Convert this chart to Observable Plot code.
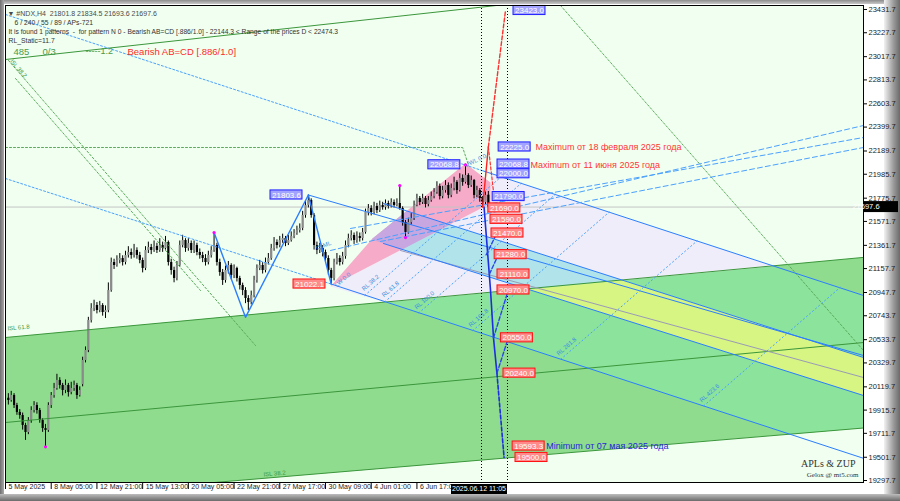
<!DOCTYPE html>
<html><head><meta charset="utf-8">
<script src="https://cdn.jsdelivr.net/npm/d3@7"></script>
<script src="https://cdn.jsdelivr.net/npm/@observablehq/plot@0.6"></script>
<style>
html,body{margin:0;padding:0;background:#fff;}
#wrap{position:relative;width:900px;height:501px;overflow:hidden;background:#fff;}
.band{position:absolute;}
#chart{position:absolute;left:0;top:0;}
</style></head><body>
<div id="wrap">
  <div class="band" style="left:0;top:0;width:900px;height:4px;background:linear-gradient(#8c8c8c,#c8c8c8)"></div>
  <div class="band" style="left:0;top:0;width:4px;height:501px;background:linear-gradient(90deg,#6e6e6e,#a8a8a8)"></div>
  <div class="band" style="left:884px;top:0;width:16px;height:501px;background:linear-gradient(90deg,#f2f2f2,#9a9a9a 60%,#6a6a6a)"></div>
  <div class="band" style="left:0;top:494px;width:900px;height:7px;background:linear-gradient(#bdbdbd,#6a6a6a)"></div>
  <div id="chart"></div>
</div>
<script>
// ---------- candles (bar index 1..169, H4) ----------
const opens = [20020,20000,20044,19956,19895,19868,19781,19719,19824,19912,
19956,19912,19824,19754,19737,19956,20044,20105,20176,20132,
20088,20132,20070,20105,20132,20044,20140,20351,20439,20702,
20807,20834,20790,20834,20772,20790,20965,21211,21185,21229,
21246,21211,21273,21299,21273,21317,21273,21229,21159,21317,
21343,21317,21352,21317,21360,21334,21387,21211,21141,21071,
21185,21360,21404,21334,21378,21317,21360,21299,21273,21246,
21211,21273,21317,21360,21211,21123,21053,21141,21185,21097,
21159,21071,21009,20965,20895,20860,20921,21053,21159,21185,
21141,21211,21246,21334,21387,21360,21404,21422,21378,21404,
21439,21466,21492,21510,21624,21712,21755,21624,21360,21317,
21334,21299,21246,21141,21071,21211,21246,21211,21264,21360,
21422,21448,21404,21439,21422,21475,21650,21685,21650,21703,
21667,21712,21694,21729,21703,21738,21712,21729,21685,21562,
21475,21562,21597,21712,21773,21738,21773,21720,21755,21790,
21826,21878,21790,21843,21887,21800,21861,21914,21843,21949,
21914,21975,21887,21931,21800,21843,21773,21738,21801.8];
const closes = [20000,20044,19956,19895,19868,19781,19719,19824,19912,19956,
19912,19824,19754,19737,19956,20044,20105,20176,20132,20088,
20132,20070,20105,20132,20044,20088,20351,20439,20702,20807,
20834,20790,20834,20772,20790,20965,21211,21185,21229,21246,
21211,21273,21299,21273,21317,21273,21229,21159,21317,21343,
21317,21352,21317,21360,21334,21387,21211,21141,21071,21185,
21360,21404,21334,21378,21317,21360,21299,21273,21246,21211,
21273,21317,21360,21211,21123,21053,21141,21185,21097,21159,
21071,21009,20965,20895,20860,20921,21053,21159,21185,21141,
21211,21246,21334,21387,21360,21404,21422,21378,21404,21439,
21466,21492,21510,21624,21712,21755,21624,21360,21317,21334,
21299,21246,21141,21071,21211,21246,21211,21264,21360,21422,
21448,21404,21439,21422,21475,21650,21685,21650,21703,21667,
21712,21694,21729,21703,21738,21712,21729,21685,21562,21475,
21562,21597,21712,21773,21738,21773,21720,21755,21790,21826,
21878,21790,21843,21887,21800,21861,21914,21843,21949,21914,
21975,21887,21931,21800,21843,21773,21738,21801.8,21697.6];
const highs = [20060,20080,20060,19975,19920,19890,19800,19850,19945,19990,
19980,19930,19840,19790,19980,20070,20150,20230,20200,20150,
20180,20150,20160,20170,20150,20120,20380,20470,20730,20850,
20880,20860,20870,20850,20830,21032,21250,21240,21270,21290,
21270,21310,21350,21330,21370,21340,21300,21250,21350,21390,
21370,21400,21380,21420,21390,21440,21400,21240,21170,21220,
21400,21450,21420,21420,21400,21400,21380,21330,21300,21280,
21310,21350,21474,21380,21240,21150,21180,21220,21200,21190,
21170,21090,21030,20990,20920,20960,21090,21190,21230,21210,
21250,21290,21370,21430,21410,21440,21460,21440,21450,21480,
21500,21530,21550,21660,21750,21803.6,21770,21640,21390,21380,
21360,21320,21270,21160,21240,21290,21270,21300,21400,21460,
21490,21470,21480,21470,21510,21680,21720,21710,21740,21730,
21750,21740,21760,21750,21770,21760,21770,21887,21700,21580,
21600,21640,21750,21810,21790,21810,21790,21790,21830,21860,
21920,21900,21880,21930,21910,21900,21960,21930,21990,21980,
22068.8,21990,21970,21940,21880,21860,21790,21830,21834.5];
const lows = [19960,19985,19930,19870,19835,19740,19650,19700,19800,19890,
19880,19800,19720,19593.3,19720,19930,20020,20090,20100,20040,
20060,20030,20050,20080,20010,20030,20120,20330,20420,20680,
20780,20760,20770,20740,20720,20770,20950,21150,21170,21200,
21180,21190,21250,21240,21250,21240,21200,21120,21140,21290,
21280,21300,21290,21300,21300,21320,21180,21100,21033,21050,
21170,21340,21300,21310,21290,21290,21270,21240,21210,21180,
21190,21250,21300,21180,21090,21010,21030,21110,21060,21070,
21040,20970,20920,20850,20790,20840,20900,21030,21140,21110,
21120,21190,21230,21310,21330,21340,21380,21350,21360,21390,
21420,21450,21470,21490,21600,21690,21600,21320,21280,21290,
21260,21210,21100,21022.1,21050,21190,21180,21190,21240,21340,
21400,21370,21380,21390,21400,21460,21620,21620,21630,21640,
21650,21670,21670,21680,21690,21690,21700,21670,21530,21430,
21460,21540,21580,21700,21710,21720,21690,21700,21740,21770,
21810,21760,21770,21820,21770,21780,21840,21810,21830,21880,
21900,21860,21870,21770,21780,21740,21700,21720,21693.6];

// ---------- axes ----------
const xDomain = [0, 300.3];
const yDomain = [19280.2, 23466.8];
const yTicks = [23431.7,23227.7,23017.7,22813.7,22603.7,22399.7,22189.7,21985.7,21775.7,21571.7,21361.7,21157.7,20947.7,20743.7,20533.7,20329.7,20119.7,19915.7,19711.7,19501.7,19297.7];
const xTickBars = [0,16,32,48,64,80,96,112,128,144];
const xTickLabels = ["5 May 2025","8 May 05:00","12 May 21:00","15 May 13:00","20 May 05:00","22 May 21:00","27 May 17:00","30 May 09:00","4 Jun 01:00","6 Jun 17:00"];
const cursorBars = [166.6, 175.7];
const cursorLabel = "2025.06.12 11:05";
const lastPrice = 21697.6;

// ---------- drawn objects: anchors [bar, price] ----------
const greenBand   = [[0,20552.9],[300.3,21255.9],[300.3,19758.5],[0,19126.6]];
const greenInFork = [[133,20860.1],[269,21178.6],[300.3,20921.5],[300.3,19758.5],[274.4,19704.1]];
const lavender    = [[113.75,21000.5],[169.75,21729],[169.75,21994.1],[269,21178.6],[133,20860.1]];
const cyanBand    = [[140.4,21662.3],[216.1,21054.9],[182.8,20976.8],[128.1,21412.1],[128.45,21421.7]];
const yellowBand  = [[182.8,20976.8],[216.1,21054.9],[300.3,20377.3],[300.3,20043.8]];
const pinkBand    = [[113.75,21000.5],[128.45,21421.7],[161,22080.1],[169.75,21913.4],[169.75,21729]];
const purpleBand  = [[128.1,21412.1],[140.4,21662.3],[155.5,21542.9],[138.8,21326.1]];

const greenTop = [[0,20552.9],[300.3,21255.9]];
const greenMid = [[0,19806.8],[300.3,20508.9]];
const greenBot = [[0,19126.6],[300.3,19758.5]];
const green12  = [[0,22992.9],[300.3,23821.4]];
const greenDotH = [[0,22220.5],[160,22220.5],[162,22071]];
const greenDot1 = [[1.05,22984.1],[87.5,20482.6]];
const greenDot2 = [[3.5,22826.1],[68.25,20965]];
const greenDot3 = [[194.25,23466.8],[300.3,20438.8]];

const lineAdot = [[0,23387.8],[167.3,22014.2]];
const lineA    = [[167.3,22014.2],[300.3,20921.5]];
const lineDdash= [[0,21948.4],[114,21022.1]];
const lineD    = [[114,21022.1],[300.3,19492.6]];
const lineB    = [[132.3,21728.9],[300.3,20377.3]];
const lineE    = [[106,21803.6],[300.3,20394.9]];
const lineMed  = [[138.25,21316.5],[300.3,20201.8]];
const lineC    = [[132.3,21377.9],[300.3,20043.8]];
const fan1 = [[113.75,21316.5],[300.3,22413.6]];
const fan2 = [[120.75,21509.6],[300.3,22308.3]];
const fan3 = [[131.25,21395.6],[300.3,22220.5]];

const rlNames = ["RL 38.2","RL 61.8","RL 100.0","RL 161.8","RL 261.8","RL 423.6"];
const rlBar1 = [125.65,132.65,144.55,163.45,194.25,244.3];
const rlP1   = [20920.5,20863.5,20766.1,20611.6,20360,19950.8];
const rlBar2 = [173.6,180.6,192.5,211.4,242.2,292.25];
const rlP2   = [21965.9,21908,21810.6,21656.1,21404.2,20995.3];

const zigzag = [[73,21474],[84,20730],[106,21803.6],[114,21022.1]];
const pivotBars = [14,73,138,140,161];
const pivotPrices = [19593.3,21474,21887,21430,22068.8];

const redSolid = [[167,21697.6],[169,22225]];
const redDash1 = [[169,22225],[175,23423]];
const redDash2 = [[169,22225],[171,21790]];
const blueSolid = [[167.5,21697.6],[169.75,20970],[170.8,20550],[172,20240]];
const blueDash  = [[172,20240],[174.5,19500]];
const blueZig = [
  [[168.3,21280],[172,21470]],
  [[169.4,21110],[172.5,21280]],
  [[170.8,20550],[176,20970]],
  [[172,20240],[176,20550]]
];

// price labels (text, bar of box left edge, price of box centre, colour kind)
const lblText  = ["23423.0","22225.0","22068.8","22000.0","21790.0","21690.0","21590.0","21470.0","21280.0","21110.0","20970.0","20550.0","20240.0","19593.3","19500.0","22068.8","21803.6","21022.1"];
const lblBar   = [177.8,172.6,172.2,172.2,170.5,169,169.75,170.1,171.2,172.2,172.2,173.4,174.3,177.5,178.5,148,92.75,100.8];
const lblPrice = [23423,22225,22075,21990,21790,21690,21590,21470,21280,21110,20970,20550,20240,19600,19500,22068.8,21803.6,21022.1];
const lblKind  = ["b","b","b","b","b","r","r","r","r","r","r","r","r","r","r","b","b","r"];

const noteText  = ["Maximum от 18 февраля 2025 года","Maximum от 11 июня 2025 года","Minimum от 07 мая 2025 года"];
const noteBar   = [185.5,183.75,189.3];
const notePrice = [22225,22062,19600];
const noteKind  = ["r","r","b"];

const header1 = "▼ #NDX,H4  21801.8 21834.5 21693.6 21697.6";
const header2 = "6 / 240 / 55 / 89 / APs-721";
const header3 = "It is found 1 patterns  -  for pattern N 0 - Bearish AB=CD [.886/1.0] - 22144.3 < Range of the prices D < 22474.3";
const header4 = "RL_Static=11.7";
const counters = ["485","0/3"];
const patternName = "Bearish AB=CD [.886/1.0]";

// ---------- build ----------
const bars = opens.map((o,k)=>({i:k+1,o,c:closes[k],h:highs[k],l:lows[k]}));
const up = bars.filter(d=>d.c>=d.o), dn = bars.filter(d=>d.c<d.o);
const labels = lblText.map((t,k)=>({t,i:lblBar[k],p:lblPrice[k],k:lblKind[k]}));
const rl = rlNames.map((n,k)=>({n,i1:rlBar1[k],p1:rlP1[k],i2:rlBar2[k],p2:rlP2[k]}));
const notes = noteText.map((t,k)=>({t,i:noteBar[k],p:notePrice[k],k:noteKind[k]}));
const pivots = pivotBars.map((i,k)=>({i,p:pivotPrices[k]}));

const BLUE="#2b7dff", LBLUE="#4aa0ff", GREEN="#3b963b", GDOT="#5aaa5a";
const px = d=>d[0], py = d=>d[1];
const poly = (pts,fill)=>Plot.line(pts,{x:px,y:py,fill,stroke:"none",curve:"linear-closed",clip:true});
const seg = (pts,stroke,o={})=>Plot.line(pts,{x:px,y:py,stroke,strokeWidth:1,clip:true,...o});
const BOXW = 11.2, BOXH = 40;

const chart = Plot.plot({
  width:900, height:501,
  marginLeft:5, marginRight:37, marginTop:5, marginBottom:19,
  x:{domain:xDomain}, y:{domain:yDomain},
  style:{background:"transparent", fontFamily:"'Liberation Sans', Arial, sans-serif", overflow:"visible"},
  marks:[
    Plot.frame({fill:"#f0fff0"}),
    poly(greenBand,"#8fdc8f"),
    poly(greenInFork,"#8ce39b"),
    poly(lavender,"#efedf9"),
    poly(cyanBand,"#b0e4ea"),
    poly(yellowBand,"#d6f582"),
    poly(pinkBand,"#f6abc9"),
    poly(purpleBand,"#c8a6e0"),
    Plot.ruleY([lastPrice],{stroke:"#c4c4c4"}),
    // candles
    Plot.ruleX(bars,{x:"i",y1:"l",y2:"h",stroke:"#000",strokeWidth:1}),
    Plot.ruleX(up,{x:"i",y1:"o",y2:"c",stroke:"#8a8a8a",strokeWidth:2.2}),
    Plot.ruleX(dn,{x:"i",y1:"o",y2:"c",stroke:"#000",strokeWidth:2.2}),
    // green lines
    seg(greenTop,GREEN), seg(greenMid,GREEN), seg(greenBot,GREEN), seg(green12,GREEN),
    seg(greenDotH,GDOT,{strokeDasharray:"2,2"}),
    seg(greenDot1,GDOT,{strokeDasharray:"2,2"}),
    seg(greenDot2,GDOT,{strokeDasharray:"2,2"}),
    seg(greenDot3,GDOT,{strokeDasharray:"2,2"}),
    // pitchfork lines
    seg(lineAdot,LBLUE,{strokeDasharray:"2,2"}), seg(lineA,BLUE),
    seg(lineDdash,LBLUE,{strokeDasharray:"2,2"}), seg(lineD,BLUE),
    seg(lineB,BLUE), seg(lineE,BLUE), seg(lineMed,"#9a9ab8"), seg(lineC,BLUE),
    seg(fan1,LBLUE,{strokeDasharray:"5,3"}), seg(fan2,LBLUE,{strokeDasharray:"5,3"}), seg(fan3,LBLUE,{strokeDasharray:"5,3"}),
    Plot.link(rl,{x1:"i1",y1:"p1",x2:"i2",y2:"p2",stroke:LBLUE,strokeDasharray:"2,2",clip:true}),
    Plot.text(rl,{x:"i1",y:"p1",text:"n",rotate:-41,dx:6,dy:-13,fontSize:6,fill:"#3a8fe0"}),
    // zigzag
    seg(zigzag,BLUE,{strokeWidth:1.4}),
    Plot.dot(pivots,{x:"i",y:"p",r:1.6,fill:"#ff00ff",stroke:"none"}),
    // crosshair verticals
    Plot.ruleX(cursorBars,{stroke:"#000",strokeDasharray:"1,2"}),
    // projections
    seg(redSolid,"#ff2020",{strokeWidth:1.4}),
    seg(redDash1,"#ff3030",{strokeWidth:1.4,strokeDasharray:"4,2"}),
    seg(redDash2,"#ff3030",{strokeWidth:1.2,strokeDasharray:"3,2"}),
    seg(blueSolid,"#1c2ee0",{strokeWidth:1.6}),
    seg(blueDash,"#1c2ee0",{strokeWidth:1.6,strokeDasharray:"4,2"}),
    ...blueZig.map(s=>seg(s,"#2a46e8",{strokeWidth:1.4,strokeDasharray:"4,2"})),
    // price labels
    Plot.rect(labels.filter(d=>d.k==="b"),{x1:"i",x2:d=>d.i+BOXW,y1:d=>d.p-BOXH,y2:d=>d.p+BOXH,fill:"#a2a2ff",stroke:"#2020ff"}),
    Plot.rect(labels.filter(d=>d.k==="r"),{x1:"i",x2:d=>d.i+BOXW,y1:d=>d.p-BOXH,y2:d=>d.p+BOXH,fill:"#ff8a8a",stroke:"#ff1010"}),
    Plot.text(labels,{x:d=>d.i+BOXW/2,y:"p",text:"t",fill:"#fff",fontSize:8}),
    // notes
    Plot.text(notes.filter(d=>d.k==="r"),{x:"i",y:"p",text:"t",textAnchor:"start",fill:"#ff3535",fontSize:9}),
    Plot.text(notes.filter(d=>d.k==="b"),{x:"i",y:"p",text:"t",textAnchor:"start",fill:"#2525d8",fontSize:9}),
    // small level names
    Plot.text(["ISL 61.8"],{x:0.7,y:20632,text:d=>d,textAnchor:"start",fontSize:6,fill:GREEN,rotate:-5}),
    Plot.text(["ISL 38.2"],{x:90.3,y:19350,text:d=>d,textAnchor:"start",fontSize:6,fill:GREEN,rotate:-5}),
    Plot.text(["ISL 38.2"],{x:4.5,y:22914,text:d=>d,textAnchor:"middle",fontSize:6,fill:GREEN,rotate:49}),
    Plot.text(["UWL 0.0"],{x:164.5,y:22106,text:d=>d,fontSize:6,fill:"#3a8fe0",rotate:-25}),
    Plot.text(["LW 0.0"],{x:118,y:21060,text:d=>d,fontSize:6,fill:"#3a8fe0",rotate:-41}),
    Plot.text(["IS.ML"],{x:111.3,y:21360,text:d=>d,fontSize:6,fill:"#3a8fe0",rotate:-20}),
    // header
    Plot.text([header1],{frameAnchor:"top-left",dx:2,dy:6,text:d=>d,textAnchor:"start",fontSize:7,fill:"#4a4a4a"}),
    Plot.text([header2],{frameAnchor:"top-left",dx:9,dy:15,text:d=>d,textAnchor:"start",fontSize:6.8,fill:"#333"}),
    Plot.text([header3],{frameAnchor:"top-left",dx:3,dy:24,text:d=>d,textAnchor:"start",fontSize:6.7,fill:"#333"}),
    Plot.text([header4],{frameAnchor:"top-left",dx:3,dy:32.5,text:d=>d,textAnchor:"start",fontSize:6.8,fill:"#333"}),
    Plot.text([counters[0]],{frameAnchor:"top-left",dx:8,dy:42.5,text:d=>d,textAnchor:"start",fontSize:9.5,fill:"#4a9a4a"}),
    Plot.text([counters[1]],{frameAnchor:"top-left",dx:37,dy:42.5,text:d=>d,textAnchor:"start",fontSize:9.5,fill:"#4a9a4a"}),
    Plot.text(["-----1.2"],{frameAnchor:"top-left",dx:80,dy:42.5,text:d=>d,textAnchor:"start",fontSize:9,fill:"#4a9a4a"}),
    Plot.text([patternName],{frameAnchor:"top-left",dx:122,dy:42.5,text:d=>d,textAnchor:"start",fontSize:9.5,fill:"#ff2a2a"}),
    Plot.text(["APLs & ZUP"],{frameAnchor:"bottom-right",dx:-8,dy:-16,text:d=>d,textAnchor:"end",fontSize:10,fill:"#333",fontFamily:"'Liberation Serif', serif"}),
    Plot.text(["Gelox @ mt5.com"],{frameAnchor:"bottom-right",dx:-5,dy:-6,text:d=>d,textAnchor:"end",fontSize:7,fill:"#333",fontFamily:"'Liberation Serif', serif"}),
    // axes
    Plot.axisY(yTicks,{anchor:"right",tickSize:3,tickPadding:2,tickFormat:d=>d.toFixed(1),fontSize:7.5,fill:"#1a1a1a",stroke:"#000"}),
    Plot.axisX(xTickBars,{anchor:"bottom",tickSize:7,tickFormat:()=>"",stroke:"#000"}),
    Plot.axisX(xTickBars,{anchor:"bottom",tickSize:0,tickPadding:2,textAnchor:"start",dx:3,tickFormat:d=>xTickLabels[xTickBars.indexOf(d)],fontSize:7,fill:"#1a1a1a"}),
    Plot.frame({stroke:"#000"})
  ]
});
document.getElementById("chart").appendChild(chart);

// current price & cursor time tags, placed with the plot's own scales
const svg = d3.select(chart);
const yS = chart.scale("y"), xS = chart.scale("x");
const cy = yS.apply(lastPrice);
const xr = xS.range[1];
const tags = svg.append("g");
tags.append("rect").attr("x",xr).attr("y",cy-5.5).attr("width",35).attr("height",11).attr("fill","#000");
tags.append("text").attr("x",xr+3).attr("y",cy).attr("dy","0.35em").attr("fill","#fff").attr("font-size",7.5).attr("font-family","'Liberation Sans', Arial").text(lastPrice.toFixed(1));
const cx = xS.apply(cursorBars[0]);
const yb = yS.range[0];
tags.append("rect").attr("x",cx-30).attr("y",yb+2).attr("width",56).attr("height",10).attr("fill","#000");
tags.append("text").attr("x",cx-2).attr("y",yb+7).attr("dy","0.35em").attr("text-anchor","middle").attr("fill","#fff").attr("font-size",7).attr("font-family","'Liberation Sans', Arial").text(cursorLabel);
</script>
</body></html>
